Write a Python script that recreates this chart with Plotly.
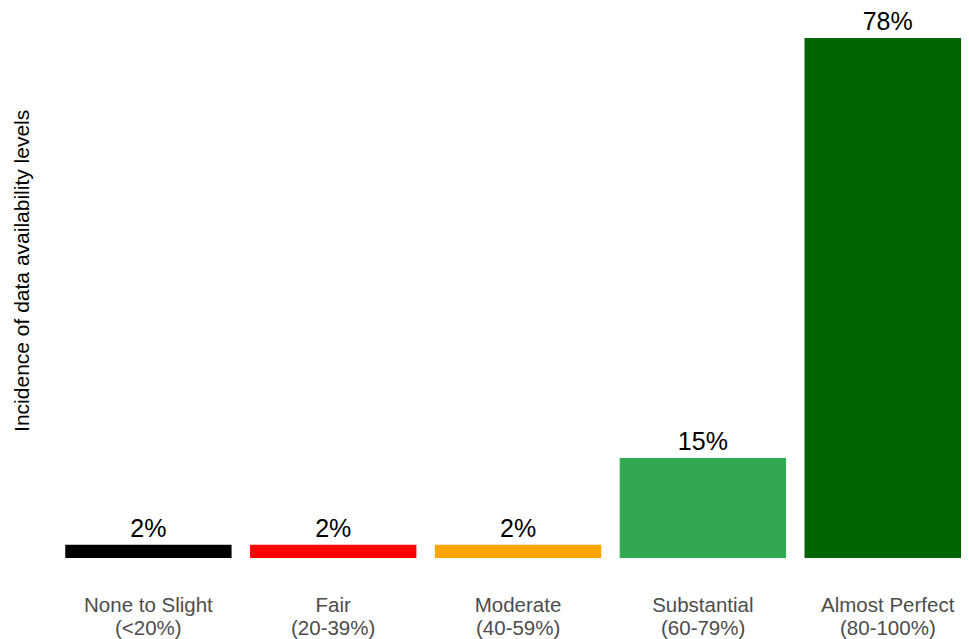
import plotly.graph_objects as go

categories = ["None to Slight", "Fair", "Moderate", "Substantial", "Almost Perfect"]
ranges = ["(<20%)", "(20-39%)", "(40-59%)", "(60-79%)", "(80-100%)"]
values = [2, 2, 2, 15, 78]
colors = ["#000000", "#FF0000", "#FFA500", "#33A853", "#006400"]

FONT = "Liberation Sans, Arial, sans-serif"

fig = go.Figure(go.Bar(
    x=categories,
    y=values,
    marker=dict(color=colors, line=dict(width=0)),
    text=[f"{v}%" for v in values],
    textposition="outside",
    textfont=dict(size=25, color="#000000", family=FONT),
    cliponaxis=False,
    width=0.9,
))

for c, r in zip(categories, ranges):
    fig.add_annotation(x=c, xref="x", y=0, yref="paper", text=r, showarrow=False,
                       yanchor="middle", yshift=-69,
                       font=dict(size=20.5, color="#4D4D4D", family=FONT))

fig.add_annotation(x=0, xref="paper", y=0.522, yref="paper",
                   text="Incidence of data availability levels", textangle=-90,
                   showarrow=False, xanchor="center", yanchor="middle", xshift=-34,
                   font=dict(size=21, color="#000000", family=FONT))

fig.update_layout(
    width=961, height=631,
    margin=dict(l=48, r=0, t=0, b=81, autoexpand=False),
    plot_bgcolor="white", paper_bgcolor="white",
    font=dict(family=FONT),
    showlegend=False,
    bargap=0.1,
)
fig.update_xaxes(
    range=[-0.5, 4.44], automargin=False,
    showgrid=False, zeroline=False, showline=False,
    ticks="", ticklen=0, ticklabelstandoff=32,
    tickfont=dict(size=20.5, color="#4D4D4D", family=FONT),
)
fig.update_yaxes(
    range=[0, 82.5], automargin=False,
    showgrid=False, zeroline=False, showline=False,
    showticklabels=False, ticks="",
)

fig.write_html("out.html")
